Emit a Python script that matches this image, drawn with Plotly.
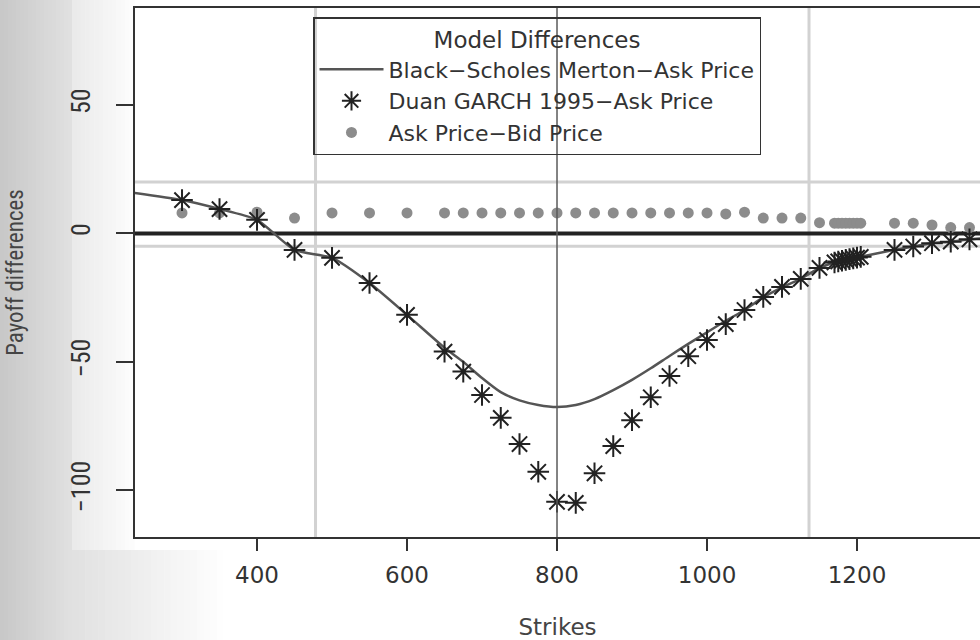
import plotly.graph_objects as go

# Strike grid and payoff differences for each model
garch_strikes = [300, 350, 400, 450, 500, 550, 600, 650, 675, 700, 725, 750, 775, 800,
                 825, 850, 875, 900, 925, 950, 975, 1000, 1025, 1050, 1075, 1100, 1125, 1150,
                 1170, 1175, 1180, 1185, 1190, 1195, 1200, 1205, 1250, 1275, 1300, 1325, 1350]
garch_diff = [13.0, 9.5, 5.3, -6.4, -9.5, -19.3, -31.7, -46.0, -53.8, -62.9, -71.8, -82.0, -92.8, -104.5,
              -104.9, -93.4, -82.8, -72.7, -63.8, -55.5, -47.8, -41.5, -35.3, -29.8, -24.7, -20.8, -17.7, -13.4,
              -11.3, -10.9, -10.6, -10.3, -10.0, -9.7, -9.4, -9.1, -6.4, -5.1, -3.8, -3.2, -2.3]

bsm_strikes = [225, 300, 350, 400, 450, 500, 550, 600, 650, 675, 700, 725, 750, 775, 800,
               825, 850, 875, 900, 925, 950, 975, 1000, 1025, 1050, 1075, 1100, 1125, 1150,
               1170, 1185, 1205, 1250, 1275, 1300, 1325, 1350, 1375]
bsm_diff = [16.3, 13.0, 9.5, 5.3, -6.4, -9.5, -19.3, -31.7, -44.5, -50.0, -56.3, -61.8, -65.0, -66.8, -67.6,
            -66.8, -64.5, -61.0, -57.0, -52.5, -47.7, -43.0, -38.5, -34.0, -29.8, -24.9, -21.0, -17.7, -13.4,
            -11.3, -10.3, -9.1, -6.4, -5.1, -3.8, -3.2, -2.3, -1.7]

spread_strikes = garch_strikes
spread_diff = [8.0, 8.0, 8.3, 6.0, 8.0, 8.0, 8.0, 8.0, 8.0, 8.0, 8.0, 8.0, 8.0, 8.0,
               8.0, 8.0, 8.0, 8.0, 8.0, 8.0, 8.0, 8.0, 7.6, 8.3, 6.0, 6.0, 6.0, 4.2,
               4.0, 4.0, 4.0, 4.0, 4.0, 4.0, 4.0, 4.0, 4.0, 4.0, 3.3, 2.3, 2.3]

# Reference lines
band_levels = [20, -5]
band_strikes = [478, 1136]
atm_strike = [800]
zero_level = [0]

x_ticks = [400, 600, 800, 1000, 1200]
y_ticks = [-100, -50, 0, 50]

x_range = [237.3, 1364]
y_range = [-118.2, 87.8]

W, H = 980, 640
ML, MT, MB, MR = 135, 8, 103, 0
PW, PH = W - ML - MR, H - MT - MB

WIDE = "DejaVu Sans"
NARROW = "Liberation Sans Narrow, Arial Narrow, Roboto Condensed, Liberation Sans"
INK = "#333333"

fig = go.Figure()

fig.add_trace(go.Scatter(
    x=spread_strikes, y=spread_diff, mode="markers", name="Ask Price\u2212Bid Price",
    marker=dict(symbol="circle", size=11, color="#8c8c8c"), legendrank=3))
fig.add_trace(go.Scatter(
    x=bsm_strikes, y=bsm_diff, mode="lines", name="Black\u2212Scholes Merton\u2212Ask Price",
    line=dict(color="#555555", width=2.5, shape="spline", smoothing=0.6), legendrank=1))
fig.add_trace(go.Scatter(
    x=garch_strikes, y=garch_diff, mode="markers", name="Duan GARCH 1995\u2212Ask Price",
    marker=dict(symbol="asterisk-open", size=18, color="#222222",
                line=dict(width=2, color="#222222")), legendrank=2))

shapes = []
for lv in band_levels:
    shapes.append(dict(type="line", xref="paper", x0=0, x1=1, yref="y", y0=lv, y1=lv,
                       line=dict(color="#d2d2d2", width=3), layer="below"))
for s in band_strikes:
    shapes.append(dict(type="line", yref="paper", y0=0, y1=1, xref="x", x0=s, x1=s,
                       line=dict(color="#d2d2d2", width=3), layer="below"))
for lv in zero_level:
    shapes.append(dict(type="line", xref="paper", x0=0, x1=1, yref="y", y0=lv, y1=lv,
                       line=dict(color="#222222", width=4), layer="below"))
for s in atm_strike:
    shapes.append(dict(type="line", yref="paper", y0=0, y1=1, xref="x", x0=s, x1=s,
                       line=dict(color="#5a5a5a", width=1.5), layer="above"))


# Page shading along the left margin
def px_x(p):
    return (p - ML) / PW


def px_y(p):
    return (H - MB - p) / PH


def shade(x0, x1, y0, y1, g0, g1, n):
    out = []
    step = (x1 - x0) / n
    for i in range(n):
        g = int(round(g0 + (g1 - g0) * i / (n - 1)))
        out.append(dict(type="rect", xref="paper", yref="paper",
                        x0=px_x(x0 + i * step), x1=px_x(x0 + (i + 1) * step + 0.5),
                        y0=px_y(y1), y1=px_y(y0), line=dict(width=0),
                        fillcolor=f"rgb({g},{g},{g})", layer="below"))
    return out


shapes += shade(0, 72, 0, H, 200, 224, 18)
shapes += shade(72, 134, 0, 550, 234, 252, 14)
shapes += shade(72, 230, 550, H, 225, 255, 24)

fig.update_layout(
    width=W, height=H,
    margin=dict(l=ML, r=MR, t=MT, b=MB, autoexpand=False),
    paper_bgcolor="white", plot_bgcolor="white",
    shapes=shapes,
    showlegend=True,
    legend=dict(
        title=dict(text="Model Differences", side="top center",
                   font=dict(family=WIDE, size=23, color=INK)),
        font=dict(family=WIDE, size=22, color=INK),
        x=px_x(313), y=px_y(17), xanchor="left", yanchor="top",
        bgcolor="rgba(0,0,0,0)", bordercolor=INK, borderwidth=1.5,
        itemwidth=64, tracegroupgap=0),
    xaxis=dict(
        range=x_range, tickvals=x_ticks, ticktext=[str(v) for v in x_ticks],
        showgrid=False, zeroline=False,
        showline=True, mirror=True, linecolor=INK, linewidth=1.5,
        ticks="outside", ticklen=12, tickwidth=1.5, tickcolor=INK,
        tickfont=dict(family=WIDE, size=23, color=INK), ticklabelstandoff=5,
        title=dict(text="Strikes", font=dict(family=WIDE, size=23, color="#444444"), standoff=32),
        automargin=False),
    yaxis=dict(
        range=y_range, tickvals=y_ticks, ticktext=["\u2212100", "\u221250", "0", "50"],
        showgrid=False, zeroline=False,
        showline=True, mirror=False, linecolor=INK, linewidth=1.5,
        ticks="outside", ticklen=17, tickwidth=1.5, tickcolor=INK, tickangle=-90,
        tickfont=dict(family=NARROW, size=26, color=INK), ticklabelstandoff=16,
        title=dict(text="Payoff differences", font=dict(family=NARROW, size=23, color="#444444"),
                   standoff=36),
        automargin=False),
)

fig.write_html("out.html")
